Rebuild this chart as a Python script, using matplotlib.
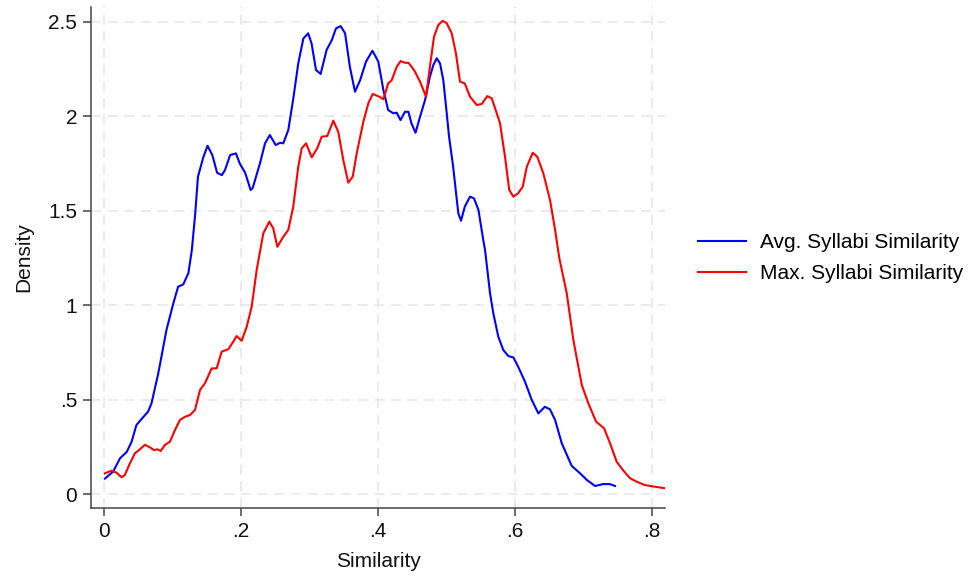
import matplotlib
matplotlib.use("Agg")
import matplotlib.pyplot as plt

plt.rcParams['font.family'] = ['Liberation Sans', 'DejaVu Sans']

# Kernel density estimates of syllabi similarity
avg_x = [0.001, 0.013, 0.023, 0.033, 0.040, 0.047, 0.055, 0.064, 0.069, 0.079, 0.091,
         0.101, 0.108, 0.1155, 0.123, 0.128, 0.133, 0.137, 0.145, 0.151, 0.158, 0.165,
         0.172, 0.1765, 0.184, 0.1925, 0.198, 0.206, 0.214, 0.217, 0.2276, 0.235, 0.242,
         0.2506, 0.257, 0.2617, 0.269, 0.276, 0.2836, 0.291, 0.298, 0.303, 0.3095, 0.3163,
         0.325, 0.3324, 0.3387, 0.3456, 0.352, 0.359, 0.3665, 0.374, 0.3826, 0.392, 0.4006,
         0.408, 0.415, 0.4225, 0.4275, 0.433, 0.4396, 0.4445, 0.449, 0.455, 0.4616, 0.4689,
         0.476, 0.481, 0.486, 0.4908, 0.4956, 0.5006, 0.504, 0.510, 0.5175, 0.5215, 0.527,
         0.5346, 0.5405, 0.547, 0.554, 0.5566, 0.5639, 0.5687, 0.576, 0.5833, 0.5906, 0.598,
         0.605, 0.615, 0.6249, 0.6345, 0.644, 0.6516, 0.659, 0.6687, 0.6833, 0.6955, 0.7053,
         0.7174, 0.7295, 0.739, 0.7466]
avg_y = [0.083, 0.12, 0.19, 0.225, 0.278, 0.366, 0.40, 0.437, 0.48, 0.64, 0.87,
         1.01, 1.098, 1.11, 1.17, 1.29, 1.486, 1.68, 1.785, 1.843, 1.794, 1.70,
         1.688, 1.715, 1.794, 1.803, 1.75, 1.70, 1.609, 1.62, 1.75, 1.856, 1.90,
         1.847, 1.859, 1.856, 1.926, 2.085, 2.279, 2.41, 2.438, 2.385, 2.244, 2.223,
         2.35, 2.40, 2.464, 2.476, 2.438, 2.261, 2.129, 2.19, 2.288, 2.346, 2.288,
         2.138, 2.032, 2.015, 2.018, 1.979, 2.023, 2.023, 1.962, 1.912, 1.997, 2.085,
         2.208, 2.27, 2.306, 2.279, 2.19, 2.015, 1.891, 1.732, 1.486, 1.447, 1.521,
         1.574, 1.565, 1.503, 1.345, 1.292, 1.063, 0.957, 0.833, 0.763, 0.731, 0.724,
         0.675, 0.595, 0.499, 0.428, 0.463, 0.449, 0.393, 0.27, 0.15, 0.111, 0.076,
         0.044, 0.054, 0.054, 0.044]

max_x = [0.001, 0.0108, 0.018, 0.0254, 0.030, 0.0376, 0.0449, 0.0522, 0.0595, 0.0668,
         0.0727, 0.0775, 0.0825, 0.0887, 0.096, 0.1034, 0.1107, 0.118, 0.1253, 0.1326,
         0.14, 0.1472, 0.157, 0.1643, 0.1716, 0.1813, 0.1886, 0.1935, 0.2009, 0.2082,
         0.2155, 0.2228, 0.2325, 0.2412, 0.247, 0.253, 0.2617, 0.269, 0.2763, 0.2836,
         0.2886, 0.295, 0.3032, 0.3114, 0.3178, 0.326, 0.3348, 0.3421, 0.3494, 0.3567,
         0.3632, 0.369, 0.3787, 0.386, 0.3924, 0.402, 0.408, 0.415, 0.4202, 0.4275,
         0.4333, 0.4396, 0.4445, 0.4494, 0.4542, 0.4616, 0.4703, 0.476, 0.482, 0.4883,
         0.4947, 0.5006, 0.5079, 0.514, 0.52, 0.527, 0.5346, 0.5444, 0.5517, 0.56,
         0.5664, 0.5737, 0.5785, 0.5858, 0.592, 0.598, 0.605, 0.6117, 0.6176, 0.6263,
         0.633, 0.6418, 0.6516, 0.659, 0.6652, 0.676, 0.6857, 0.698, 0.7076, 0.7189,
         0.7306, 0.7393, 0.749, 0.7588, 0.7686, 0.778, 0.790, 0.805, 0.8197]
max_y = [0.111, 0.125, 0.114, 0.09, 0.102, 0.164, 0.217, 0.238, 0.262, 0.248,
         0.234, 0.238, 0.229, 0.261, 0.278, 0.34, 0.393, 0.41, 0.419, 0.446,
         0.552, 0.587, 0.666, 0.666, 0.754, 0.767, 0.807, 0.837, 0.812, 0.886,
         0.992, 1.186, 1.38, 1.442, 1.407, 1.309, 1.362, 1.398, 1.521, 1.732,
         1.83, 1.856, 1.782, 1.83, 1.891, 1.895, 1.976, 1.917, 1.768, 1.648,
         1.68, 1.803, 1.97, 2.068, 2.117, 2.103, 2.089, 2.173, 2.19, 2.261,
         2.291, 2.282, 2.282, 2.261, 2.235, 2.182, 2.103, 2.261, 2.42, 2.482,
         2.504, 2.491, 2.438, 2.332, 2.182, 2.173, 2.103, 2.059, 2.064, 2.106,
         2.094, 2.015, 1.962, 1.785, 1.609, 1.574, 1.592, 1.627, 1.732, 1.806,
         1.785, 1.697, 1.556, 1.398, 1.248, 1.063, 0.816, 0.578, 0.481, 0.384,
         0.349, 0.27, 0.172, 0.125, 0.085, 0.067, 0.049, 0.04, 0.032]

x_ticks = [0, 0.2, 0.4, 0.6, 0.8]
x_tick_labels = ["0", ".2", ".4", ".6", ".8"]
y_ticks = [0, 0.5, 1, 1.5, 2, 2.5]
y_tick_labels = ["0", ".5", "1", "1.5", "2", "2.5"]

fig = plt.figure(figsize=(9.74, 5.79), dpi=100)
ax = fig.add_axes([0.0934, 0.1231, 0.5894, 0.8648])

ax.plot(avg_x, avg_y, color="#0000ff", lw=1.5, label="Avg. Syllabi Similarity",
        solid_joinstyle="round")
ax.plot(max_x, max_y, color="#ff0000", lw=1.5, label="Max. Syllabi Similarity",
        solid_joinstyle="round")

ax.set_xlim(-0.0194, 0.8197)
ax.set_ylim(-0.071, 2.577)
ax.set_xticks(x_ticks)
ax.set_xticklabels(x_tick_labels)
ax.set_yticks(y_ticks)
ax.set_yticklabels(y_tick_labels)

ax.grid(True, color="#e8e8e8", linestyle=(0, (6, 4)), linewidth=1.2)
ax.set_axisbelow(True)
for side in ("top", "right"):
    ax.spines[side].set_visible(False)
for side in ("left", "bottom"):
    ax.spines[side].set_color("#444444")
    ax.spines[side].set_linewidth(1.1)
ax.tick_params(axis="both", direction="out", length=6, width=1.1,
               color="#444444", labelsize=15, labelcolor="#111111", pad=4)

ax.set_xlabel("Similarity", fontsize=15, color="#111111", labelpad=8.5)
ax.set_ylabel("Density", fontsize=15, color="#111111", labelpad=10.5)

fig.legend(loc="center left", bbox_to_anchor=(0.697, 0.554), frameon=False,
           fontsize=15, handlelength=2.3, handletextpad=0.67, labelspacing=0.6)

fig.savefig("out.png", dpi=100)
